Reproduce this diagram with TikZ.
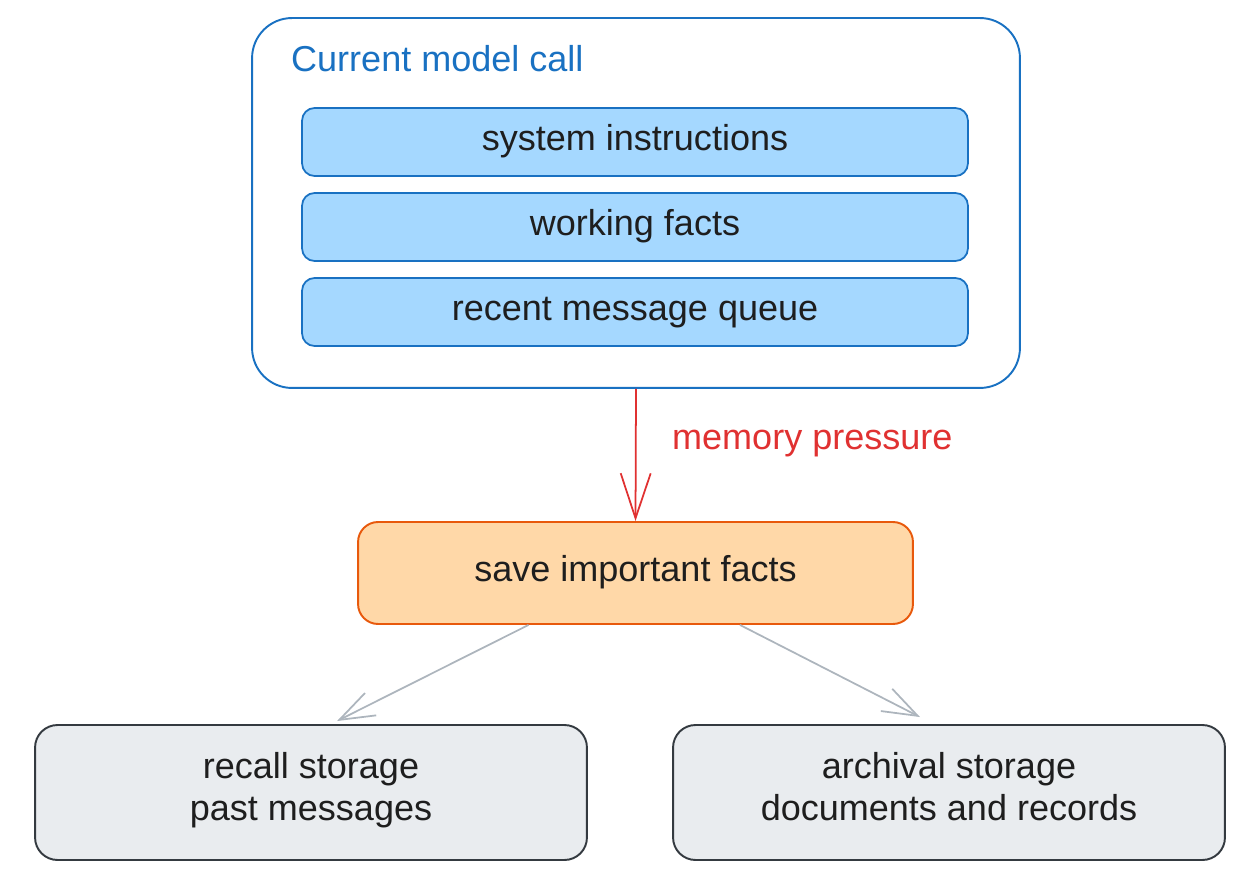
\documentclass[tikz,border=0pt]{standalone}
\usepackage{fontspec}
\setmainfont{Liberation Sans}
\usepackage{tikz}
\usetikzlibrary{arrows.meta, calc}
\definecolor{myblue}{RGB}{25,113,194}
\definecolor{hdrblue}{RGB}{165,216,255}
\definecolor{myorange}{RGB}{232,89,12}
\definecolor{hdrorange}{RGB}{255,216,168}
\definecolor{mygrey}{RGB}{52,58,64}
\definecolor{hdrgrey}{RGB}{233,236,239}
\definecolor{mysilver}{RGB}{173,181,189}
\definecolor{myred}{RGB}{224,49,49}
\definecolor{mydark}{RGB}{30,30,30}
\newcommand{\diafont}{\fontsize{20.5}{23.5}\selectfont}
\tikzset{
  ctxbox/.style={rectangle, draw=myblue, minimum width=15.36cm, minimum height=7.4cm,
    rounded corners=0.8cm, line width=1.1pt},
  slot/.style={rectangle, draw=myblue, fill=hdrblue, minimum width=13.32cm, minimum height=1.36cm,
    font=\diafont, text=mydark, rounded corners=0.25cm, line width=1pt,
    execute at begin node=\strut},
  savebox/.style={rectangle, draw=myorange, fill=hdrorange, minimum width=11.1cm, minimum height=2.04cm,
    font=\diafont, text=mydark, rounded corners=0.4cm, line width=1.1pt,
    execute at begin node=\strut},
  storebox/.style={rectangle, draw=mygrey, fill=hdrgrey, minimum width=11.04cm, minimum height=2.7cm,
    font=\diafont, text=mydark, align=center, rounded corners=0.45cm, line width=1.1pt,
    execute at begin node=\strut, execute at end node=\strut},
  redarrow/.style={-{Straight Barb[length=9mm, width=6mm]}, line width=1pt, color=myred},
  greyarrow/.style={-{Straight Barb[length=7mm, width=5mm]}, line width=1pt, color=mysilver}
}
\begin{document}
\begin{tikzpicture}[x=0.02cm, y=-0.02cm]
  \useasboundingbox (0,0) rectangle (1260,884);
  % Current model call
  \node[ctxbox] (ctx) at (636,203) {};
  \node[font=\diafont, text=myblue, anchor=base west] (ctxtitle) at (285,72) {Current model call};
  \node[slot] (sysinst) at (635,142) {system instructions};
  \node[slot] (facts) at (635,227) {working facts};
  \node[slot] (queue) at (635,312) {recent message queue};
  % Eviction
  \node[savebox] (save) at (635.5,573) {save important facts};
  \draw[redarrow] (ctx.south) -- (save.north);
  \node[font=\diafont, text=myred, anchor=west] (pressure) at (666,444) {memory pressure};
  % Storage tiers
  \node[storebox] (recall) at (311,792.5) {recall storage\\past messages};
  \node[storebox] (archive) at (949,792.5) {archival storage\\documents and records};
  \draw[greyarrow] ([xshift=-2.14cm]save.south) -- ([xshift=0.52cm, yshift=0.06cm]recall.north);
  \draw[greyarrow] ([xshift=2.09cm]save.south) -- ([xshift=-0.58cm, yshift=0.14cm]archive.north);
\end{tikzpicture}
\end{document}
